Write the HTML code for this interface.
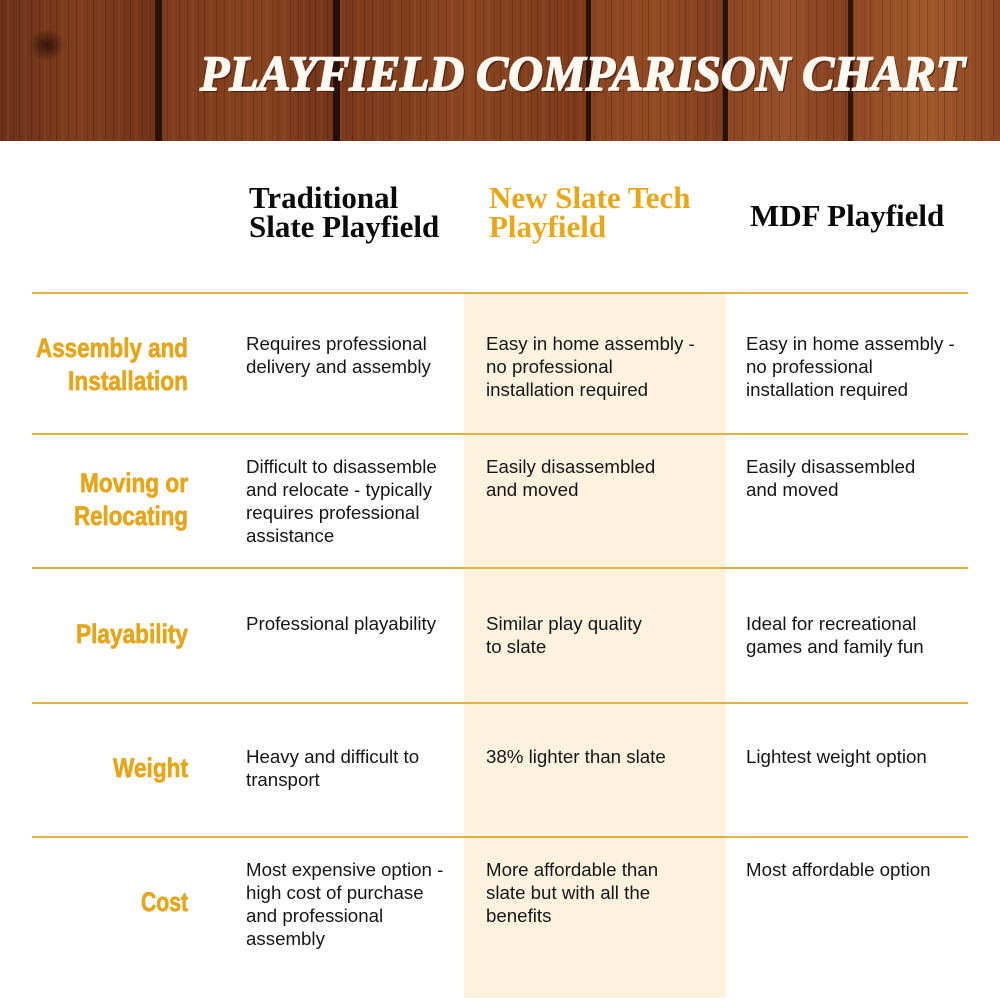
<!DOCTYPE html>
<html>
<head>
<meta charset="utf-8">
<style>
html,body{margin:0;padding:0;background:#fff;}
svg{display:block;}
.body{font-family:"Liberation Sans",Arial,sans-serif;font-size:18.7px;fill:#161616;}
.lab{font-family:"Liberation Sans",Arial,sans-serif;font-weight:bold;font-size:27px;fill:#e6a619;stroke:#e6a619;stroke-width:0.7px;}
.hd{font-family:"Liberation Serif","Times New Roman",serif;font-weight:bold;font-size:31px;}
</style>
</head>
<body>
<svg width="1000" height="1000" viewBox="0 0 1000 1000" xmlns="http://www.w3.org/2000/svg">
<defs>
  <linearGradient id="pA" x1="0" x2="1" y1="0" y2="0">
    <stop offset="0" stop-color="#6c3118"/>
    <stop offset="0.5" stop-color="#7e3d1e"/>
    <stop offset="1" stop-color="#713419"/>
  </linearGradient>
  <linearGradient id="pB" x1="0" x2="1" y1="0" y2="0">
    <stop offset="0" stop-color="#7c3b1c"/>
    <stop offset="0.6" stop-color="#86431f"/>
    <stop offset="1" stop-color="#733419"/>
  </linearGradient>
  <linearGradient id="pC" x1="0" x2="1" y1="0" y2="0">
    <stop offset="0" stop-color="#7a391b"/>
    <stop offset="0.5" stop-color="#8a4621"/>
    <stop offset="1" stop-color="#7c3a1b"/>
  </linearGradient>
  <linearGradient id="pD" x1="0" x2="1" y1="0" y2="0">
    <stop offset="0" stop-color="#8a4421"/>
    <stop offset="0.5" stop-color="#934b24"/>
    <stop offset="1" stop-color="#7f3d1d"/>
  </linearGradient>
  <linearGradient id="pE" x1="0" x2="1" y1="0" y2="0">
    <stop offset="0" stop-color="#8c4723"/>
    <stop offset="0.5" stop-color="#96502a"/>
    <stop offset="1" stop-color="#83401f"/>
  </linearGradient>
  <linearGradient id="pF" x1="0" x2="1" y1="0" y2="0">
    <stop offset="0" stop-color="#8e4924"/>
    <stop offset="0.5" stop-color="#a0592c"/>
    <stop offset="1" stop-color="#8a4523"/>
  </linearGradient>
  <pattern id="grain" width="37" height="141" patternUnits="userSpaceOnUse">
    <rect x="2" y="0" width="1" height="141" fill="#2a1006" opacity="0.22"/>
    <rect x="7" y="0" width="2" height="141" fill="#c07040" opacity="0.12"/>
    <rect x="13" y="0" width="1" height="141" fill="#2a1006" opacity="0.16"/>
    <rect x="19" y="0" width="1" height="141" fill="#2a1006" opacity="0.26"/>
    <rect x="24" y="0" width="3" height="141" fill="#c07040" opacity="0.10"/>
    <rect x="31" y="0" width="1" height="141" fill="#2a1006" opacity="0.2"/>
  </pattern>
  <radialGradient id="knot">
    <stop offset="0" stop-color="#2a1208" stop-opacity="0.9"/>
    <stop offset="1" stop-color="#2a1208" stop-opacity="0"/>
  </radialGradient>
</defs>

<!-- wood banner -->
<rect x="0" y="0" width="1000" height="141" fill="#6e3318"/>
<rect x="0" y="0" width="155" height="141" fill="url(#pA)"/>
<rect x="162" y="0" width="171" height="141" fill="url(#pB)"/>
<rect x="340" y="0" width="246" height="141" fill="url(#pC)"/>
<rect x="591" y="0" width="132" height="141" fill="url(#pD)"/>
<rect x="728" y="0" width="120" height="141" fill="url(#pE)"/>
<rect x="853" y="0" width="147" height="141" fill="url(#pF)"/>
<rect x="0" y="0" width="1000" height="141" fill="url(#grain)"/>
<rect x="155" y="0" width="7" height="141" fill="#2b1209"/>
<rect x="333" y="0" width="7" height="141" fill="#241008"/>
<rect x="586" y="0" width="5" height="141" fill="#2a1209"/>
<rect x="723" y="0" width="5" height="141" fill="#2a1209"/>
<rect x="848" y="0" width="5" height="141" fill="#2e140a"/>
<ellipse cx="47" cy="45" rx="18" ry="16" fill="url(#knot)"/>

<!-- title -->
<text x="202" y="92" textLength="765" lengthAdjust="spacingAndGlyphs" font-family="Liberation Serif, Times New Roman, serif" font-weight="bold" font-style="italic" font-size="50" fill="#3a1608" opacity="0.6">PLAYFIELD COMPARISON CHART</text>
<text x="200" y="90" textLength="765" lengthAdjust="spacingAndGlyphs" font-family="Liberation Serif, Times New Roman, serif" font-weight="bold" font-style="italic" font-size="50" fill="#fdfaf4" stroke="#fdfaf4" stroke-width="1.6">PLAYFIELD COMPARISON CHART</text>

<!-- highlight column -->
<rect x="464" y="294" width="262" height="704" fill="#fcf2de"/>

<!-- header -->
<text class="hd" x="249" y="208" fill="#0a0a0a">Traditional</text>
<text class="hd" x="249" y="237" fill="#0a0a0a">Slate Playfield</text>
<text class="hd" x="489" y="208" fill="#e9a716">New Slate Tech</text>
<text class="hd" x="489" y="237" fill="#e9a716">Playfield</text>
<text class="hd" x="750" y="226" fill="#0a0a0a">MDF Playfield</text>

<!-- lines -->
<g fill="#e2b040">
  <rect x="32" y="292" width="936" height="2"/>
  <rect x="32" y="433" width="936" height="2"/>
  <rect x="32" y="567" width="936" height="2"/>
  <rect x="32" y="702" width="936" height="2"/>
  <rect x="32" y="836" width="936" height="2"/>
</g>

<!-- row labels -->
<g class="lab" text-anchor="end">
  <text x="188" y="357" textLength="152" lengthAdjust="spacingAndGlyphs">Assembly and</text>
  <text x="188" y="390" textLength="120" lengthAdjust="spacingAndGlyphs">Installation</text>
  <text x="188" y="492" textLength="108" lengthAdjust="spacingAndGlyphs">Moving or</text>
  <text x="188" y="525" textLength="114" lengthAdjust="spacingAndGlyphs">Relocating</text>
  <text x="188" y="643" textLength="112" lengthAdjust="spacingAndGlyphs">Playability</text>
  <text x="188" y="777" textLength="75" lengthAdjust="spacingAndGlyphs">Weight</text>
  <text x="188" y="911" textLength="47" lengthAdjust="spacingAndGlyphs">Cost</text>
</g>

<!-- body text -->
<g class="body">
  <!-- row 1 -->
  <text x="246" y="350">Requires professional</text>
  <text x="246" y="373">delivery and assembly</text>
  <text x="486" y="350">Easy in home assembly -</text>
  <text x="486" y="373">no professional</text>
  <text x="486" y="396">installation required</text>
  <text x="746" y="350">Easy in home assembly -</text>
  <text x="746" y="373">no professional</text>
  <text x="746" y="396">installation required</text>
  <!-- row 2 -->
  <text x="246" y="473">Difficult to disassemble</text>
  <text x="246" y="496">and relocate - typically</text>
  <text x="246" y="519">requires professional</text>
  <text x="246" y="542">assistance</text>
  <text x="486" y="473">Easily disassembled</text>
  <text x="486" y="496">and moved</text>
  <text x="746" y="473">Easily disassembled</text>
  <text x="746" y="496">and moved</text>
  <!-- row 3 -->
  <text x="246" y="630">Professional playability</text>
  <text x="486" y="630">Similar play quality</text>
  <text x="486" y="653">to slate</text>
  <text x="746" y="630">Ideal for recreational</text>
  <text x="746" y="653">games and family fun</text>
  <!-- row 4 -->
  <text x="246" y="763">Heavy and difficult to</text>
  <text x="246" y="786">transport</text>
  <text x="486" y="763">38% lighter than slate</text>
  <text x="746" y="763">Lightest weight option</text>
  <!-- row 5 -->
  <text x="246" y="876">Most expensive option -</text>
  <text x="246" y="899">high cost of purchase</text>
  <text x="246" y="922">and professional</text>
  <text x="246" y="945">assembly</text>
  <text x="486" y="876">More affordable than</text>
  <text x="486" y="899">slate but with all the</text>
  <text x="486" y="922">benefits</text>
  <text x="746" y="876">Most affordable option</text>
</g>
</svg>
</body>
</html>
